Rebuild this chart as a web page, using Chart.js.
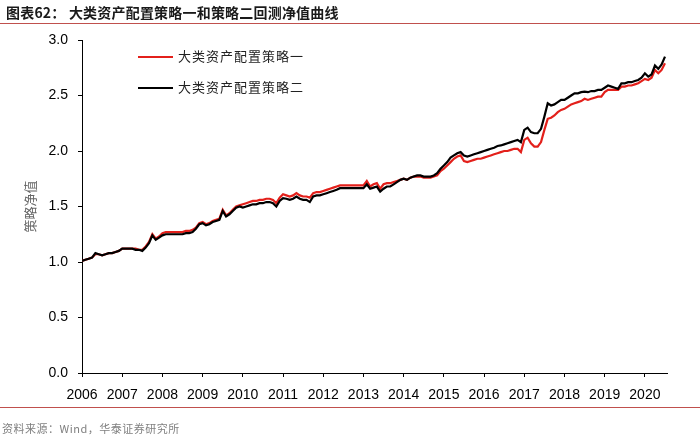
<!DOCTYPE html>
<html>
<head>
<meta charset="utf-8">
<script src="https://cdn.jsdelivr.net/npm/chart.js@4.4.1/dist/chart.umd.min.js"></script>
<style>
  body { margin: 0; background: #fff; }
  #wrap { position: relative; width: 700px; height: 438px; overflow: hidden; font-family: "Noto Sans CJK SC", sans-serif; }
  #chartBox { position: absolute; left: 0; top: 0; width: 700px; height: 438px; }
  .title { position: absolute; left: 6px; top: 2px; font-size: 14px; font-weight: bold; color: #1a1a1a; letter-spacing: 0.2px; }
  .rule { position: absolute; left: 0; width: 700px; height: 1px; background: #c0504d; }
  .source { position: absolute; left: 2px; top: 420px; font-size: 11px; color: #808080; letter-spacing: 0.5px; }
  .legend { position: absolute; left: 138px; top: 46px; }
  .legend div { position: relative; height: 31px; font-size: 13px; letter-spacing: 1px; color: #222; }
  .legend span.swatch { position: absolute; left: 0; top: 10px; width: 35px; height: 2px; }
  .legend span.txt { position: absolute; left: 40px; top: 0; white-space: nowrap; }
</style>
</head>
<body>
<div id="wrap">
  <div id="chartBox"><canvas id="navChart" width="700" height="438"></canvas></div>
  <div class="title">图表62： 大类资产配置策略一和策略二回测净值曲线</div>
  <div class="rule" style="top:23px"></div>
  <div class="legend" id="legend"></div>
  <div class="rule" style="top:407px"></div>
  <div class="source">资料来源：Wind，华泰证券研究所</div>
</div>
<script>
// ===============================
//   数据（月度，2006年1月起）
// ===============================
const startYear = 2006;
const yearTicks = [2006, 2007, 2008, 2009, 2010, 2011, 2012, 2013, 2014, 2015, 2016, 2017, 2018, 2019, 2020];
const valueTicks = [0.0, 0.5, 1.0, 1.5, 2.0, 2.5, 3.0];
const seriesNames = ["大类资产配置策略一", "大类资产配置策略二"];
const seriesColors = ["#e3201b", "#000000"];

// 策略一（红）
const strategy1 = [
  1.01, 1.02, 1.03, 1.04, 1.07, 1.07, 1.06, 1.07, 1.08, 1.08, 1.09, 1.10,
  1.12, 1.12, 1.12, 1.12, 1.12, 1.11, 1.11, 1.14, 1.18, 1.25, 1.21, 1.23,
  1.26, 1.27, 1.27, 1.27, 1.27, 1.27, 1.27, 1.28, 1.28, 1.29, 1.31, 1.35,
  1.36, 1.34, 1.35, 1.37, 1.38, 1.39, 1.47, 1.42, 1.44, 1.47, 1.50, 1.51,
  1.52, 1.53, 1.54, 1.55, 1.55, 1.56, 1.56, 1.57, 1.57, 1.56, 1.53, 1.58,
  1.61, 1.60, 1.59, 1.60, 1.62, 1.60, 1.59, 1.59, 1.58, 1.62, 1.63, 1.63,
  1.64, 1.65, 1.66, 1.67, 1.68, 1.69, 1.69, 1.69, 1.69, 1.69, 1.69, 1.69,
  1.69, 1.73, 1.68, 1.70, 1.71, 1.66, 1.70, 1.71, 1.71, 1.72, 1.73, 1.74,
  1.75, 1.74, 1.76, 1.77, 1.77, 1.77, 1.76, 1.76, 1.76, 1.77, 1.78, 1.82,
  1.84, 1.87, 1.90, 1.93, 1.95, 1.96, 1.91, 1.90, 1.91, 1.92, 1.93, 1.93,
  1.94, 1.95, 1.96, 1.97, 1.98, 1.99, 2.00, 2.00, 2.01, 2.02, 2.02, 1.99,
  2.10, 2.12, 2.07, 2.04, 2.04, 2.08, 2.19, 2.29, 2.30, 2.32, 2.35, 2.37,
  2.38, 2.40, 2.42, 2.43, 2.44, 2.45, 2.47, 2.46, 2.47, 2.48, 2.49, 2.49,
  2.53, 2.55, 2.55, 2.55, 2.55, 2.58, 2.58, 2.59, 2.59, 2.60, 2.61, 2.63,
  2.65, 2.64, 2.66, 2.73, 2.70, 2.73, 2.79
];

// 策略二（黑）
const strategy2 = [
  1.01, 1.02, 1.03, 1.04, 1.08, 1.07, 1.06, 1.07, 1.08, 1.08, 1.09, 1.10,
  1.12, 1.12, 1.12, 1.12, 1.11, 1.11, 1.10, 1.13, 1.17, 1.24, 1.20, 1.22,
  1.24, 1.25, 1.25, 1.25, 1.25, 1.25, 1.25, 1.26, 1.26, 1.27, 1.30, 1.34,
  1.35, 1.33, 1.34, 1.36, 1.37, 1.38, 1.46, 1.41, 1.43, 1.46, 1.49, 1.50,
  1.49, 1.50, 1.51, 1.52, 1.52, 1.53, 1.53, 1.54, 1.54, 1.53, 1.50, 1.55,
  1.575, 1.57, 1.56, 1.57, 1.59, 1.57, 1.56, 1.56, 1.54, 1.59, 1.60, 1.60,
  1.61, 1.62, 1.63, 1.64, 1.65, 1.665, 1.665, 1.665, 1.665, 1.665, 1.665, 1.665,
  1.665, 1.70, 1.66, 1.67, 1.68, 1.635, 1.66, 1.68, 1.68, 1.70, 1.72, 1.74,
  1.75, 1.74, 1.76, 1.77, 1.78, 1.78, 1.77, 1.77, 1.77, 1.78, 1.80, 1.84,
  1.87, 1.90, 1.94, 1.96, 1.98, 1.99, 1.96, 1.95, 1.96, 1.97, 1.98, 1.99,
  2.00, 2.01, 2.02, 2.03, 2.045, 2.05, 2.06, 2.07, 2.08, 2.09, 2.10, 2.08,
  2.19, 2.21, 2.17, 2.16, 2.16, 2.20, 2.31, 2.43, 2.41, 2.42, 2.44, 2.46,
  2.46, 2.48, 2.50, 2.52, 2.52, 2.53, 2.535, 2.53, 2.54, 2.54, 2.55, 2.55,
  2.57, 2.59, 2.58, 2.57, 2.56, 2.61, 2.61, 2.62, 2.62, 2.63, 2.64, 2.66,
  2.70, 2.67, 2.69, 2.77, 2.74, 2.78, 2.85
];

// 月序号 -> 年份小数
function toPoints(values) {
  return values.map((v, i) => ({ x: startYear + i / 12, y: v }));
}

// ===============================
//   图例（HTML）
// ===============================
const legendBox = document.getElementById("legend");
seriesNames.forEach((name, i) => {
  const row = document.createElement("div");
  row.innerHTML = '<span class="swatch" style="background:' + seriesColors[i] + '"></span><span class="txt">' + name + '</span>';
  legendBox.appendChild(row);
});

// ===============================
//   图表
// ===============================
const ctx = document.getElementById("navChart").getContext("2d");

new Chart(ctx, {
  type: "line",
  data: {
    datasets: [
      {
        label: seriesNames[0],
        data: toPoints(strategy1),
        borderColor: seriesColors[0],
        borderWidth: 2.2,
        pointRadius: 0,
        tension: 0,
        order: 1
      },
      {
        label: seriesNames[1],
        data: toPoints(strategy2),
        borderColor: seriesColors[1],
        borderWidth: 2.2,
        pointRadius: 0,
        tension: 0,
        order: 0
      }
    ]
  },
  options: {
    responsive: false,
    animation: false,
    layout: { padding: { left: 0, top: 40, right: 33, bottom: 35 } },
    plugins: {
      legend: { display: false },
      tooltip: { enabled: false }
    },
    scales: {
      x: {
        type: "linear",
        min: 2006,
        max: 2020.55,
        afterBuildTicks: (scale) => { scale.ticks = yearTicks.map(v => ({ value: v })); },
        afterFit: (scale) => { scale.height = 30; },
        grid: { drawOnChartArea: false, drawTicks: true, tickLength: 4, color: "#000" },
        border: { display: true, color: "#000", width: 1 },
        ticks: {
          padding: 10,
          maxRotation: 0,
          autoSkip: false,
          color: "#000",
          font: { family: "Liberation Sans, Arial", size: 14 },
          callback: (v) => String(v)
        }
      },
      y: {
        min: 0,
        max: 3,
        afterBuildTicks: (scale) => { scale.ticks = valueTicks.map(v => ({ value: v })); },
        afterFit: (scale) => { scale.width = 82; },
        grid: { drawOnChartArea: false, drawTicks: true, tickLength: 4, color: "#000" },
        border: { display: true, color: "#000", width: 1 },
        title: {
          display: true,
          text: "策略净值",
          color: "#666",
          font: { family: "Noto Sans CJK SC", size: 13 },
          padding: { top: 22, bottom: 0 }
        },
        ticks: {
          padding: 10,
          color: "#000",
          font: { family: "Liberation Sans, Arial", size: 14 },
          callback: (v) => Number(v).toFixed(1)
        }
      }
    }
  }
});
</script>
</body>
</html>
